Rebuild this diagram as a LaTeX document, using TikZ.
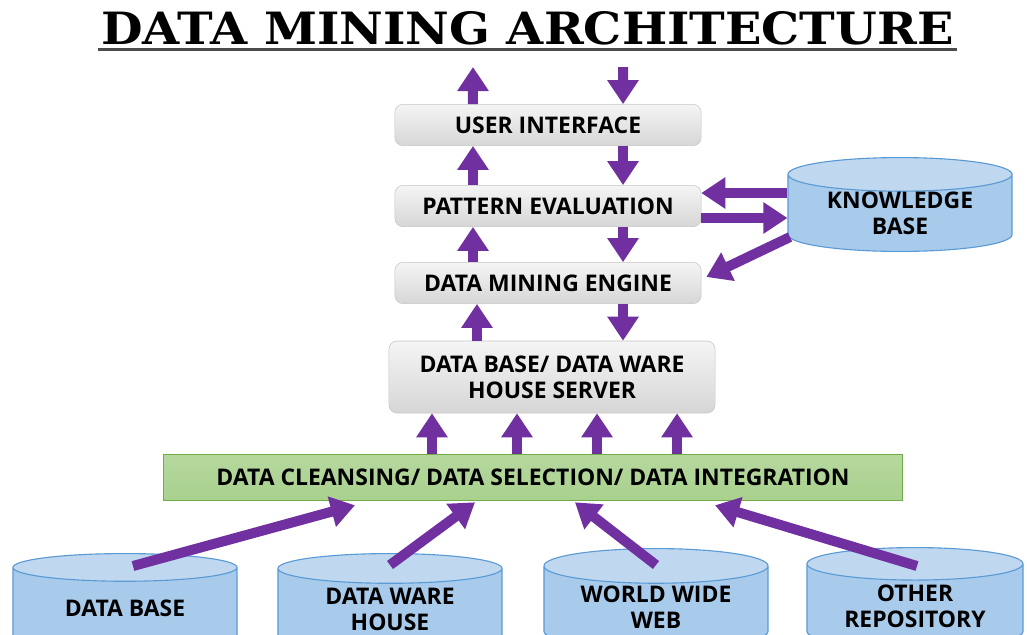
\documentclass[tikz,border=0pt]{standalone}
\usepackage{fontspec}
\setmainfont{Open Sans}
\newfontfamily\titlefont{DejaVu Serif}
\usetikzlibrary{arrows.meta,shapes.geometric}
\definecolor{flowpurple}{HTML}{7030A0}
\definecolor{storeblue}{HTML}{5B9BD5}
\definecolor{storebody}{HTML}{A9CBEB}
\definecolor{storetop}{HTML}{BFD8F0}
\definecolor{cleangreen}{HTML}{A9D18E}
\definecolor{cleanedge}{HTML}{70AD47}

\tikzset{layer/.style = {rounded corners=0.2cm, draw=gray!45, top color=gray!8, bottom color=gray!32,
                         minimum width=7.65cm, minimum height=1.03cm, inner sep=0pt,
                         font=\bfseries\fontsize{16.3}{18.5}\selectfont, align=center},
         store/.style = {cylinder, shape border rotate=90, aspect=0.23, draw=storeblue, thick,
                         cylinder uses custom fill, cylinder body fill=storebody, cylinder end fill=storetop,
                         minimum width=5.6cm, minimum height=2.4cm, inner sep=0pt, anchor=north,
                         font=\bfseries\fontsize{16.3}{18.5}\selectfont, align=center},
         flow/.style  = {draw=flowpurple, line width=0.25cm, -{Triangle[width=0.75cm,length=0.6cm]}}
        }

\begin{document}
\begin{tikzpicture}[x=0.025cm, y=-0.025cm]
  \useasboundingbox (0,0) rectangle (1027,634);
  \clip (0,0) rectangle (1027,634);
  \fill[white] (0,0) rectangle (1027,634);
  \node[anchor=south west, inner sep=0pt] (title) at (101,45)
    {\resizebox{21.3cm}{0.825cm}{\titlefont\bfseries DATA MINING ARCHITECTURE}};
  \draw[black!70, line width=0.075cm] ([xshift=-0.075cm,yshift=-0.11cm]title.south west)
    -- ([xshift=0.075cm,yshift=-0.11cm]title.south east);

  \node[layer] (ui)  at (548,125) {USER INTERFACE};
  \node[layer] (pe)  at (548,206) {PATTERN EVALUATION};
  \node[layer] (dme) at (548,283) {DATA MINING ENGINE};
  \node[layer, minimum width=8.15cm, minimum height=1.8cm] (srv) at (552,377) {DATA BASE/ DATA WARE\\HOUSE SERVER};
  \node[layer, rounded corners=0pt, draw=cleanedge, top color=cleangreen!85!white, bottom color=cleangreen,
        minimum width=18.475cm, minimum height=1.15cm] (cl) at (533,477) {DATA CLEANSING/ DATA SELECTION/ DATA INTEGRATION};

  \node[store, minimum height=2.25cm] (kb) at (900,157) {KNOWLEDGE\\BASE};
  \node[store] (db)  at (125,553) {DATA BASE};
  \node[store] (dwh) at (390,553) {DATA WARE\\HOUSE};
  \node[store, minimum height=2.5cm] (www) at (656,548) {WORLD WIDE\\WEB};
  \node[store, minimum height=2.5cm, minimum width=5.4cm] (rep) at (915,547) {OTHER\\REPOSITORY};

  \coordinate (out) at (473,67);
  \coordinate (in)  at (623,67);
  \draw[flow] ([xshift=-1.875cm]ui.north) -- (out);
  \draw[flow] (in) -- ([xshift=1.875cm]ui.north);
  \foreach \lo/\hi in {pe/ui, dme/pe, srv/dme} {
    \draw[flow] ([xshift=-1.875cm]\lo.north) coordinate (t) -- (t |- \hi.south);
    \draw[flow] ([xshift=1.875cm]\hi.south) coordinate (t) -- (t |- \lo.north);
  }
  \foreach \dx in {-2.525,-0.4,1.6,3.6}
    \draw[flow] ([xshift=\dx cm]cl.north) coordinate (t) -- (t |- srv.south);

  \path ([yshift=0.325cm]pe.east) coordinate (pl) ([yshift=-0.3cm]pe.east) coordinate (pr);
  \draw[flow] (pl -| kb.west) -- (pl);
  \draw[flow] (pr) -- (pr -| kb.west);
  \draw[flow] ([xshift=-2.75cm,yshift=-2cm]kb.north) -- ([xshift=0.125cm,yshift=0.15cm]dme.east);

  \draw[flow] ([xshift=0.2cm,yshift=-0.325cm]db.north) -- ([xshift=-4.45cm,yshift=-0.125cm]cl.south);
  \draw[flow] ([yshift=-0.3cm]dwh.north) -- ([xshift=-1.45cm,yshift=-0.05cm]cl.south);
  \draw[flow] ([yshift=-0.425cm]www.north) -- ([xshift=1.05cm,yshift=-0.05cm]cl.south);
  \draw[flow] ([xshift=0.05cm,yshift=-0.475cm]rep.north) -- ([xshift=4.55cm,yshift=-0.125cm]cl.south);
\end{tikzpicture}
\end{document}
